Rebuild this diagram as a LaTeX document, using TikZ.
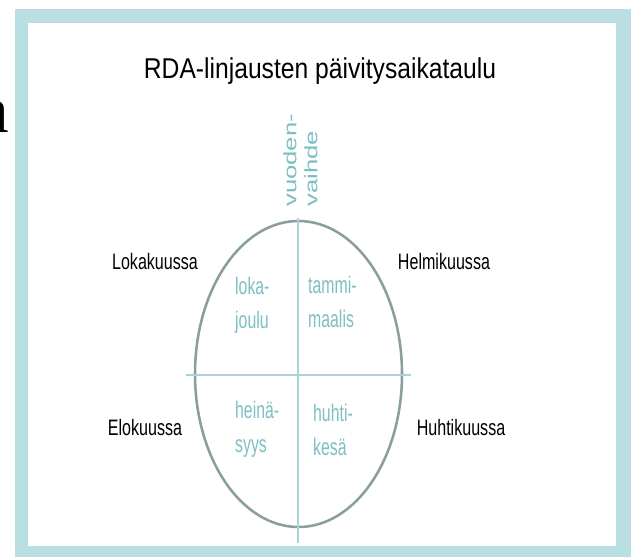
\documentclass[tikz,border=0pt]{standalone}
\usepackage{fontspec}
\setmainfont{Liberation Sans}
\newfontfamily\slidefont{Liberation Serif}
\usetikzlibrary{shapes.geometric}

\definecolor{framecol}{HTML}{B9DFE3}
\definecolor{ringcol}{HTML}{8A9E9F}
\definecolor{axiscol}{HTML}{A9D4D7}
\definecolor{monthcol}{HTML}{7DBFC3}

\begin{document}
\begin{tikzpicture}[x=0.75pt, y=-0.75pt,
  deadline/.style={inner sep=0pt, xscale=0.72, font=\fontsize{16.75}{19}\selectfont},
  months/.style={inner sep=0pt, anchor=west, align=left, xscale=0.66, text=monthcol,
    font=\fontsize{18}{25.5}\selectfont}]
\useasboundingbox (0,0) rectangle (631,557);

% Slide frame
\fill[white] (0,0) rectangle (631,557);
\fill[framecol] (15,9) rectangle (631,557);
\fill[white] (28,23) rectangle (616,546);

% Cut-off letter left of the frame
\node[inner sep=0pt, anchor=base east, font=\slidefont\fontsize{50}{50}\selectfont] (stray) at (9,132) {a};

% Title
\node[inner sep=0pt, xscale=0.86, font=\fontsize{21.5}{25}\selectfont] (title) at (320,71) {RDA-linjausten päivitysaikataulu};

% Year wheel
\node[draw=ringcol, line width=1.9pt, ellipse, minimum width=155.25pt, minimum height=229.5pt, inner sep=0pt] (wheel) at (298.5,374) {};

% Axes
\coordinate (axtop) at (298,218);
\coordinate (axbot) at (298,543);
\coordinate (axleft) at (186,375);
\coordinate (axright) at (411,375);
\draw[axiscol, line width=1.4pt] (axtop) -- (axbot);
\draw[axiscol, line width=1.4pt] (axleft) -- (axright);

% Turn of the year
\node[inner sep=0pt, anchor=west, align=left, xscale=0.7, rotate=90, text=monthcol,
  font=\fontsize{19.25}{22.5}\selectfont] (newyear) at (300.5,207) {vuoden-\\vaihde};

% Quarters
\node[months] (q4) at (235,305) {loka-\\joulu};
\node[months] (q1) at (308,302) {tammi-\\maalis};
\node[months] (q3) at (235,429) {heinä-\\syys};
\node[months] (q2) at (313,430) {huhti-\\kesä};

% Update months
\node[deadline] (oct) at (155,262) {Lokakuussa};
\node[deadline] (feb) at (444,262) {Helmikuussa};
\node[deadline] (aug) at (145,428) {Elokuussa};
\node[deadline] (apr) at (461,428) {Huhtikuussa};
\end{tikzpicture}
\end{document}
